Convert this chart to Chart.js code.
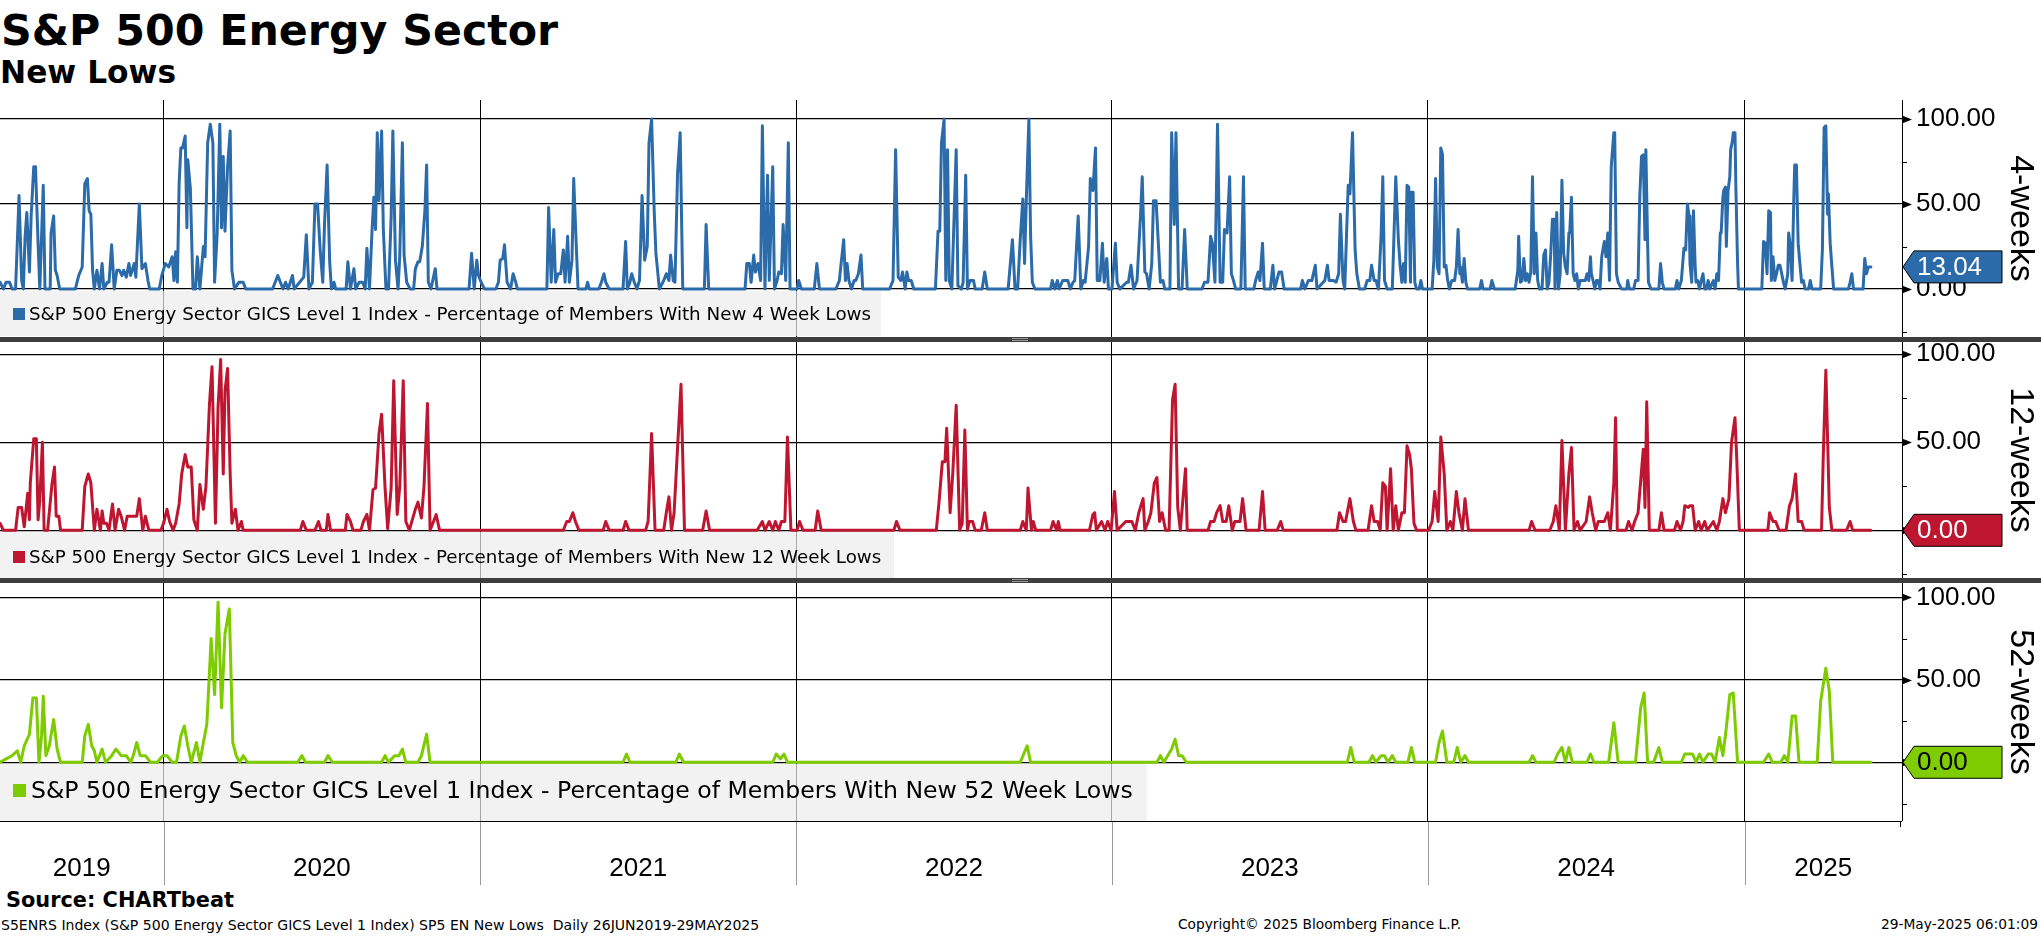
<!DOCTYPE html>
<html><head><meta charset="utf-8">
<script src="https://cdn.jsdelivr.net/npm/chart.js@4.4.1/dist/chart.umd.min.js"></script>
<style>
html,body{margin:0;padding:0;background:#fff;}
body{width:2041px;height:936px;position:relative;overflow:hidden;font-family:"DejaVu Sans",sans-serif;color:#000;}
.t{position:absolute;white-space:nowrap;line-height:1;font-family:"DejaVu Sans",sans-serif;}
canvas{position:absolute;left:0;}
.sep{position:absolute;left:0;width:2041px;height:5px;background:#3e3e3e;}
.grip{position:absolute;width:16px;height:1px;background:#9a9a9a;}
.leg{position:absolute;left:0;background:rgba(236,236,236,0.7);}
.sq{position:absolute;}
</style></head><body>

<div class="t" data-fit="557" data-base="45" style="left:1px;font-weight:bold;font-size:43px;">S&amp;P 500 Energy Sector</div>
<div class="t" data-fit="176" data-base="83" style="left:0px;font-weight:bold;font-size:31px;">New Lows</div>

<canvas id="c1" width="2041" height="237" style="top:100px"></canvas>
<canvas id="c2" width="2041" height="236" style="top:342px"></canvas>
<canvas id="c3" width="2041" height="302" style="top:583px"></canvas>

<div class="sep" style="top:337px"></div>
<div class="sep" style="top:578px"></div>
<div class="grip" style="left:1012px;top:338px"></div><div class="grip" style="left:1012px;top:340px"></div>
<div class="grip" style="left:1012px;top:579px"></div><div class="grip" style="left:1012px;top:581px"></div>

<div class="leg" style="top:291px;width:881px;height:45px"></div>
<div class="sq" style="left:13px;top:308px;width:12px;height:12px;background:#2C6BA9"></div>
<div class="t" data-fit="842" data-base="320" style="left:29px;font-size:17px;">S&amp;P 500 Energy Sector GICS Level 1 Index - Percentage of Members With New 4 Week Lows</div>

<div class="leg" style="top:532px;width:894px;height:46px"></div>
<div class="sq" style="left:13px;top:551px;width:12px;height:12px;background:#BE1630"></div>
<div class="t" data-fit="852" data-base="563" style="left:29px;font-size:17px;">S&amp;P 500 Energy Sector GICS Level 1 Index - Percentage of Members With New 12 Week Lows</div>

<div class="leg" style="top:764px;width:1147px;height:57px"></div>
<div class="sq" style="left:13px;top:784px;width:13px;height:13px;background:#7DCB00"></div>
<div class="t" data-fit="1102" data-base="799" style="left:31px;font-size:23px;">S&amp;P 500 Energy Sector GICS Level 1 Index - Percentage of Members With New 52 Week Lows</div>

<div class="t" data-fit="228" data-base="908" style="left:6px;font-weight:bold;font-size:20px;">Source: CHARTbeat</div>
<div class="t" data-fit="758" data-base="930" style="left:1px;font-size:12px;">S5ENRS Index (S&amp;P 500 Energy Sector GICS Level 1 Index) SP5 EN New Lows&nbsp; Daily 26JUN2019-29MAY2025</div>
<div class="t" data-fit="283" data-base="930" style="left:1178px;font-size:12px;">Copyright© 2025 Bloomberg Finance L.P.</div>
<div class="t" data-fit="157" data-base="930" style="left:1881px;font-size:12px;">29-May-2025 06:01:09</div>

<script>
// ---------------- DATA ----------------
// x = calendar days since the first observation (26 Jun 2019), y = % of members
const startDate = '2019-06-26';
const endDays = 2198;               // right edge of the time axis (days since start)
const yearTicks = [2020, 2021, 2022, 2023, 2024, 2025];
const yearLabels = ['2019', '2020', '2021', '2022', '2023', '2024', '2025'];
const panelTitles = ['4-weeks', '12-weeks', '52-weeks'];
const seriesNames = [
  'S&P 500 Energy Sector GICS Level 1 Index - Percentage of Members With New 4 Week Lows',
  'S&P 500 Energy Sector GICS Level 1 Index - Percentage of Members With New 12 Week Lows',
  'S&P 500 Energy Sector GICS Level 1 Index - Percentage of Members With New 52 Week Lows'
];

const lows4w = [[0,4],[4,0],[7,4],[11,4],[14,0],[18,0],[22,55],[25,5],[27,0],[29,31],[31,45],[34,10],[36,43],[39,72],[41,72],[44,27],[46,0],[50,61],[52,0],[58,0],[59,33],[62,43],[64,11],[66,8],[69,0],[87,0],[91,8],[95,13],[98,62],[101,65],[103,46],[105,44],[107,11],[109,0],[112,11],[115,0],[118,15],[120,0],[124,4],[126,4],[129,26],[132,0],[135,11],[138,11],[141,8],[143,11],[146,7],[149,15],[151,8],[155,15],[157,7],[161,50],[164,12],[168,15],[171,5],[173,0],[184,0],[187,8],[191,15],[195,13],[199,19],[201,5],[203,22],[205,4],[207,62],[209,83],[211,83],[214,90],[216,36],[217,76],[220,59],[223,0],[226,0],[228,19],[231,0],[235,25],[237,19],[240,86],[243,97],[246,86],[248,4],[251,33],[254,97],[256,36],[258,78],[260,34],[263,72],[266,93],[268,11],[271,0],[276,4],[281,4],[284,0],[315,0],[318,4],[321,8],[324,4],[327,0],[330,4],[333,0],[338,8],[340,0],[351,7],[354,32],[357,0],[361,4],[364,50],[367,50],[370,23],[373,4],[375,38],[378,73],[381,16],[383,0],[386,4],[388,0],[400,0],[402,16],[405,0],[409,12],[411,0],[415,4],[419,4],[422,0],[424,24],[427,0],[430,35],[432,54],[434,35],[436,92],[438,52],[441,93],[443,35],[446,0],[449,0],[452,42],[454,93],[457,17],[460,0],[462,20],[465,86],[467,20],[470,4],[474,0],[478,0],[480,12],[483,16],[485,16],[488,25],[491,46],[493,73],[495,4],[498,0],[503,12],[505,0],[542,0],[545,21],[548,0],[551,17],[553,8],[556,4],[560,0],[573,0],[576,4],[578,17],[581,18],[583,26],[586,4],[590,0],[593,9],[596,4],[598,0],[632,0],[634,48],[637,4],[640,35],[642,4],[645,9],[648,9],[651,23],[653,4],[656,31],[658,4],[661,17],[663,65],[666,25],[668,0],[677,0],[679,4],[681,0],[692,0],[695,4],[698,9],[700,4],[704,0],[720,0],[723,28],[725,0],[728,4],[730,9],[733,4],[736,0],[739,5],[742,55],[745,17],[748,25],[750,86],[753,100],[756,46],[758,21],[762,0],[767,5],[770,9],[773,5],[775,20],[778,5],[780,4],[783,68],[786,92],[789,0],
[814,0],[816,38],[819,0],[861,0],[863,15],[866,15],[868,4],[871,20],[873,10],[876,15],[879,5],[881,96],[884,0],[887,67],[889,5],[893,72],[895,0],[898,5],[900,10],[903,9],[905,38],[908,5],[911,86],[913,0],[921,0],[923,5],[926,0],[941,0],[944,15],[947,0],[966,0],[970,5],[972,15],[975,29],[977,5],[979,15],[981,5],[984,0],[987,5],[989,5],[992,9],[995,20],[997,0],[1028,0],[1032,5],[1035,82],[1038,7],[1041,5],[1043,10],[1046,0],[1048,10],[1050,5],[1053,5],[1056,0],[1081,0],[1084,34],[1086,34],[1088,86],[1091,100],[1093,5],[1095,82],[1097,5],[1100,0],[1105,82],[1107,2],[1111,0],[1113,4],[1116,67],[1118,0],[1121,5],[1125,5],[1127,0],[1135,0],[1138,10],[1141,0],[1165,0],[1170,29],[1173,0],[1176,0],[1179,29],[1182,53],[1184,15],[1186,52],[1189,100],[1191,31],[1193,4],[1196,0],[1214,0],[1216,5],[1219,0],[1222,5],[1224,0],[1228,5],[1231,5],[1234,5],[1237,0],[1240,4],[1242,5],[1246,43],[1249,0],[1252,5],[1254,4],[1258,25],[1260,65],[1263,58],[1266,83],[1268,5],[1271,5],[1274,27],[1276,4],[1279,18],[1281,0],[1285,0],[1289,27],[1291,4],[1294,0],[1302,4],[1304,4],[1307,14],[1310,0],[1314,5],[1318,43],[1320,66],[1323,10],[1325,9],[1328,0],[1331,15],[1333,52],[1336,52],[1339,23],[1341,4],[1344,5],[1346,0],[1352,0],[1354,92],[1357,38],[1359,92],[1362,0],[1366,0],[1369,35],[1372,0],[1389,0],[1392,4],[1396,4],[1399,31],[1401,27],[1404,4],[1407,97],[1410,4],[1413,4],[1415,35],[1418,33],[1421,66],[1423,9],[1426,4],[1428,0],[1434,0],[1437,66],[1439,0],[1449,0],[1451,5],[1454,10],[1456,5],[1459,27],[1461,0],[1468,0],[1471,14],[1473,0],[1478,10],[1481,10],[1484,0],[1503,0],[1505,5],[1508,0],[1512,5],[1516,5],[1520,14],[1522,0],[1531,5],[1534,14],[1536,5],[1539,5],[1541,5],[1544,4],[1547,9],[1549,44],[1552,5],[1554,0],[1558,61],[1560,56],[1563,92],[1566,23],[1568,9],[1571,0],[1577,0],[1580,5],[1583,5],[1585,14],[1588,5],[1590,5],[1593,0],[1596,31],[1598,66],[1600,5],[1603,0],[1609,0],[1613,66],[1616,29],
[1618,14],[1620,4],[1622,15],[1624,4],[1626,61],[1628,60],[1630,4],[1631,57],[1633,57],[1635,4],[1637,0],[1640,0],[1642,5],[1644,0],[1655,0],[1657,17],[1659,65],[1661,13],[1663,9],[1665,83],[1667,79],[1669,13],[1671,14],[1673,5],[1675,0],[1677,4],[1678,5],[1681,5],[1683,13],[1685,35],[1687,9],[1688,13],[1690,4],[1692,18],[1694,4],[1696,0],[1710,0],[1712,5],[1714,0],[1722,0],[1724,5],[1727,0],[1751,0],[1754,11],[1755,31],[1757,4],[1759,5],[1761,18],[1763,5],[1765,9],[1767,4],[1769,10],[1771,66],[1773,9],[1775,33],[1777,5],[1779,0],[1782,0],[1784,20],[1786,23],[1788,0],[1790,4],[1792,20],[1794,41],[1796,41],[1797,0],[1799,45],[1801,0],[1803,9],[1805,64],[1807,21],[1809,13],[1811,9],[1813,33],[1814,33],[1816,54],[1818,9],[1820,5],[1822,9],[1824,0],[1826,5],[1829,5],[1832,5],[1834,9],[1836,5],[1838,19],[1839,9],[1841,5],[1843,0],[1845,5],[1847,5],[1849,0],[1851,19],[1854,28],[1856,19],[1858,33],[1860,5],[1862,72],[1865,92],[1866,92],[1868,9],[1870,4],[1874,0],[1880,0],[1881,5],[1883,0],[1888,0],[1890,5],[1891,5],[1893,5],[1895,55],[1897,78],[1899,79],[1901,29],[1902,82],[1904,28],[1905,4],[1908,0],[1917,0],[1919,15],[1921,4],[1923,0],[1936,0],[1938,5],[1940,0],[1943,5],[1946,24],[1948,23],[1950,50],[1952,43],[1953,15],[1955,4],[1957,46],[1959,13],[1960,4],[1962,5],[1964,0],[1966,5],[1968,9],[1970,0],[1972,0],[1974,5],[1976,0],[1980,5],[1982,0],[1984,9],[1986,5],[1988,33],[1989,33],[1991,54],[1992,58],[1994,60],[1995,25],[1997,58],[1999,66],[2000,82],[2002,87],[2003,92],[2005,92],[2006,60],[2008,15],[2009,0],[2036,0],[2038,28],[2040,27],[2042,9],[2044,46],[2046,45],[2047,5],[2049,19],[2051,5],[2053,9],[2055,14],[2057,14],[2059,9],[2061,4],[2063,0],[2066,9],[2067,33],[2069,25],[2071,5],[2073,54],[2074,73],[2076,73],[2078,27],[2080,15],[2082,4],[2084,5],[2086,0],[2090,0],[2092,5],[2094,0],[2104,0],[2106,23],[2108,95],[2110,96],[2112,44],[2113,56],[2115,27],[2117,13],[2119,0],[2136,0],[2138,4],[2140,9],[2142,0],[2153,0],[2155,18],[2157,9],[2159,13],[2162,13.04]];

const lows12w = [[0,4],[4,0],[18,0],[21,13],[25,13],[28,2],[32,21],[34,6],[35,27],[39,52],[42,52],[44,6],[46,17],[49,50],[51,0],[55,0],[60,26],[63,36],[65,8],[68,8],[70,0],[95,0],[98,25],[102,32],[105,27],[109,0],[112,12],[116,0],[118,11],[120,4],[123,4],[126,0],[130,15],[133,0],[137,12],[140,8],[144,0],[147,8],[151,8],[154,8],[158,8],[161,18],[165,0],[168,8],[172,0],[186,0],[189,4],[193,12],[196,5],[200,0],[203,4],[207,15],[210,32],[214,43],[217,36],[221,36],[224,6],[228,0],[231,26],[235,12],[238,25],[242,71],[245,93],[249,4],[252,70],[255,97],[258,32],[260,79],[263,92],[266,32],[268,4],[272,12],[275,0],[279,5],[281,0],[347,0],[350,5],[354,0],[364,0],[368,5],[371,0],[377,0],[379,9],[382,0],[399,0],[401,9],[405,5],[408,0],[417,0],[420,5],[424,9],[427,0],[431,23],[434,24],[438,55],[441,66],[445,24],[448,1],[452,24],[455,85],[459,9],[462,25],[466,85],[469,5],[473,0],[480,12],[483,16],[487,7],[490,25],[494,72],[497,0],[501,5],[504,9],[508,0],[651,0],[655,5],[658,5],[662,10],[665,5],[669,0],[697,0],[700,5],[704,0],[720,0],[723,5],[727,0],[746,0],[749,5],[753,55],[757,0],[767,0],[770,10],[773,19],[776,0],[779,10],[783,47],[787,83],[791,0],[812,0],[816,11],[820,0],[875,0],[881,5],[884,0],[889,5],[893,0],[896,5],[900,0],[903,5],[907,5],[910,53],[914,0],[921,0],[924,5],[928,0],[942,0],[945,11],[949,0],[1033,0],[1036,5],[1040,0],[1082,0],[1085,15],[1089,39],[1092,39],[1094,58],[1098,10],[1101,32],[1105,71],[1109,0],[1112,4],[1115,57],[1118,0],[1120,5],[1124,5],[1127,0],[1134,0],[1138,10],[1141,0],[1179,0],[1182,5],[1186,0],[1188,24],[1192,0],[1194,5],[1197,0],[1214,0],[1217,5],[1221,0],[1223,5],[1225,0],[1259,0],[1263,9],[1265,10],[1267,0],[1273,5],[1277,0],[1280,5],[1284,0],[1288,22],[1291,0],[1301,5],[1305,5],[1308,5],[1312,0],[1316,10],[1321,18],[1323,0],[1327,5],[1330,10],[1334,27],[1337,30],[1340,5],[1343,10],[1347,0],[1351,0],[1355,74],[1358,83],[1361,13],[1364,0],[1370,35],[1372,0],[1396,0],[1399,5],[1403,5],[1406,10],[1410,14],[1413,5],[1417,5],[1420,14],[1424,0],[1427,5],[1433,5],[1436,18],[1440,0],[1455,0],[1459,22],[1462,0],[1476,0],[1480,5],[1483,0],[1545,0],[1548,10],[1552,5],[1555,5],[1560,18],[1564,5],[1567,0],[1581,0],[1585,14],[1588,5],[1592,5],[1595,0],[1598,27],[1601,25],[1603,0],[1607,35],[1610,0],[1613,14],[1616,0],[1620,10],[1623,10],[1626,48],[1629,43],[1631,35],[1634,4],[1637,0],[1651,0],[1655,5],[1658,22],[1662,5],[1665,53],[1669,32],[1672,0],[1676,5],[1679,0],[1683,22],[1686,10],[1690,0],[1693,18],[1697,0],[1767,0],[1770,5],[1774,0],[1791,0],[1795,5],[1798,14],[1802,0],[1805,51],[1809,0],[1813,32],[1816,47],[1819,0],[1823,5],[1826,0],[1833,5],[1837,19],[1840,10],[1844,0],[1847,5],[1851,5],[1854,5],[1858,10],[1861,0],[1865,27],[1867,64],[1869,0],[1879,0],[1882,5],[1886,0],[1889,5],[1893,10],[1896,28],[1899,46],[1901,13],[1903,73],[1906,0],[1917,0],[1920,10],[1923,0],[1935,0],[1938,5],[1942,0],[1945,5],[1947,14],[1951,13],[1953,14],[1956,14],[1959,0],[1963,5],[1966,0],[1970,5],[1973,0],[1980,5],[1984,0],[1987,5],[1991,18],[1994,10],[1998,18],[2001,50],[2005,64],[2007,41],[2010,0],[2043,0],[2045,10],[2049,5],[2052,5],[2056,0],[2064,0],[2068,14],[2071,18],[2075,32],[2078,5],[2082,5],[2085,0],[2105,0],[2107,42],[2110,91],[2112,52],[2114,13],[2117,0],[2134,0],[2138,5],[2141,0],[2162,0]];

const lows52w = [[0,0],[14,4],[20,7],[24,0],[28,10],[34,17],[38,39],[42,39],[45,0],[48,16],[50,40],[53,4],[57,10],[62,26],[66,8],[70,0],[95,0],[98,16],[102,23],[106,10],[109,7],[112,0],[118,8],[122,0],[129,4],[134,8],[140,4],[146,4],[151,0],[154,4],[158,12],[162,4],[168,4],[174,0],[182,0],[188,4],[193,4],[199,0],[204,0],[209,16],[213,22],[217,10],[221,0],[227,12],[231,0],[235,12],[239,23],[244,75],[248,41],[252,97],[256,33],[260,78],[265,93],[269,12],[273,4],[277,0],[281,4],[286,0],[344,0],[349,4],[353,0],[375,0],[379,4],[384,0],[441,0],[445,4],[449,0],[456,4],[461,4],[465,8],[469,0],[483,0],[487,4],[493,17],[497,0],[720,0],[724,5],[728,0],[781,0],[785,5],[790,0],[893,0],[897,5],[902,2],[906,5],[910,0],[1179,0],[1183,5],[1187,10],[1191,0],[1337,0],[1341,4],[1345,0],[1354,8],[1358,14],[1362,4],[1366,4],[1371,0],[1557,0],[1561,9],[1565,0],[1582,0],[1586,4],[1590,0],[1596,4],[1600,4],[1604,0],[1609,4],[1613,0],[1627,0],[1631,9],[1635,0],[1659,0],[1663,12],[1667,19],[1672,0],[1680,0],[1684,9],[1688,0],[1693,4],[1697,0],[1767,0],[1771,4],[1775,0],[1796,0],[1800,5],[1805,9],[1809,0],[1813,9],[1817,0],[1834,0],[1838,5],[1842,0],[1859,0],[1865,24],[1870,0],[1890,0],[1896,33],[1900,42],[1904,0],[1911,0],[1917,9],[1921,0],[1943,0],[1947,5],[1952,5],[1956,5],[1960,0],[1964,5],[1968,0],[1974,5],[1978,5],[1982,0],[1987,15],[1991,4],[1995,21],[1999,41],[2003,42],[2008,0],[2038,0],[2044,5],[2048,0],[2058,0],[2062,4],[2066,0],[2071,28],[2075,28],[2079,0],[2100,0],[2104,37],[2110,57],[2114,43],[2118,0],[2162,0]];

const yTickValues = [-25, 0, 25, 50, 75, 100];

// ---------------- HELPERS ----------------
const t0 = Date.parse(startDate + 'T00:00:00Z');
const dayOfYearStart = y => Math.round((Date.UTC(y, 0, 1) - t0) / 864e5);
const gridDays = yearTicks.map(dayOfYearStart);
const bounds = [0, ...gridDays, endDays];
const labelDays = yearLabels.map((_, i) => (bounds[i] + bounds[i + 1]) / 2);

const FONT_NUM = 'Liberation Sans';

const deco = {
  id: 'deco',
  afterDraw(chart, args, o) {
    const {ctx, chartArea: ca, scales} = chart;
    const ys = scales.y;
    ctx.save();
    ctx.fillStyle = '#000'; ctx.strokeStyle = '#000'; ctx.lineWidth = 1;
    ys.ticks.forEach(t => {
      const py = Math.round(ys.getPixelForValue(t.value)) + 0.5;
      if (t.value % 50 === 0) {
        ctx.beginPath(); ctx.moveTo(ca.right, py - 4); ctx.lineTo(ca.right + 10, py); ctx.lineTo(ca.right, py + 4); ctx.closePath(); ctx.fill();
      } else {
        ctx.beginPath(); ctx.moveTo(ca.right, py); ctx.lineTo(ca.right + 5, py); ctx.stroke();
      }
    });
    if (o.bottom) {
      const xs = scales.x;
      ctx.strokeStyle = '#9a9a9a';
      gridDays.forEach(d => {
        const px = Math.round(xs.getPixelForValue(d)) + 0.5;
        ctx.beginPath(); ctx.moveTo(px, ca.bottom); ctx.lineTo(px, ca.bottom + 64); ctx.stroke();
      });
      ctx.strokeStyle = '#000';
      ctx.beginPath(); ctx.moveTo(ca.left, ca.bottom + 0.5); ctx.lineTo(ca.right, ca.bottom + 0.5); ctx.stroke();
      ctx.beginPath(); ctx.moveTo(ca.right - 1.5, ca.bottom); ctx.lineTo(ca.right - 1.5, ca.bottom + 6); ctx.stroke();
    }
    // last value box
    const v = o.last;
    const py = ys.getPixelForValue(v);
    const x0 = ca.right + 1, h = 32, w = 99, tip = 11;
    ctx.beginPath();
    ctx.moveTo(x0, py); ctx.lineTo(x0 + tip, py - h / 2); ctx.lineTo(x0 + w, py - h / 2);
    ctx.lineTo(x0 + w, py + h / 2); ctx.lineTo(x0 + tip, py + h / 2); ctx.closePath();
    ctx.fillStyle = o.boxColor; ctx.fill();
    ctx.strokeStyle = '#000'; ctx.lineWidth = 1; ctx.stroke();
    ctx.fillStyle = o.textColor; ctx.font = '26px "' + FONT_NUM + '"';
    ctx.textBaseline = 'middle'; ctx.textAlign = 'left';
    ctx.fillText(v.toFixed(2), x0 + 14, py + 1);
    ctx.restore();
  }
};

function makePanel(id, series, name, color, yMin, yMax, title, boxColor, textColor, bottom) {
  const scales = {
    x: {
      type: 'linear', min: 0, max: endDays, weight: 0,
      afterBuildTicks: s => { s.ticks = gridDays.map(v => ({value: v})); },
      afterFit: s => { s.height = 0; s.paddingLeft = 0; s.paddingRight = 0; },
      grid: {color: '#000', lineWidth: 1, drawTicks: false},
      border: {display: false},
      ticks: {display: false}
    },
    y: {
      position: 'right', min: yMin, max: yMax,
      afterBuildTicks: s => { s.ticks = yTickValues.map(v => ({value: v})); },
      afterFit: s => { s.width = 139; s.paddingTop = 0; s.paddingBottom = 0; },
      grid: {
        color: c => (c.tick && c.tick.value % 50 === 0) ? '#000' : 'rgba(0,0,0,0)',
        lineWidth: 1.2, drawTicks: false
      },
      border: {display: true, color: '#000', width: 1},
      ticks: {
        padding: 14, color: '#000', font: {family: FONT_NUM, size: 26},
        callback: v => (v % 50 === 0 ? v.toFixed(2) : '')
      },
      title: {display: true, text: title, color: '#000', font: {family: FONT_NUM, size: 34}, padding: {top: 0, bottom: 0}}
    }
  };
  if (bottom) {
    scales.xl = {
      type: 'linear', position: 'bottom', min: 0, max: endDays, weight: 1,
      afterBuildTicks: s => { s.ticks = labelDays.map(v => ({value: v})); },
      afterFit: s => { s.height = 64; s.paddingLeft = 0; s.paddingRight = 0; },
      grid: {display: false, drawTicks: false},
      border: {display: false},
      ticks: {
        autoSkip: false, maxRotation: 0, padding: 32, color: '#000',
        font: {family: FONT_NUM, size: 26},
        callback: (v, i) => yearLabels[i]
      }
    };
  }
  return new Chart(document.getElementById(id), {
    type: 'line',
    data: {datasets: [{
      label: name,
      data: series.map(p => ({x: p[0], y: p[1]})),
      borderColor: color, borderWidth: 3, pointRadius: 0, tension: 0, fill: false,
      borderJoinStyle: 'round', borderCapStyle: 'round'
    }]},
    options: {
      responsive: false, animation: false, devicePixelRatio: 1,
      layout: {padding: 0},
      plugins: {legend: {display: false}, tooltip: {enabled: false},
        deco: {last: series[series.length - 1][1], boxColor, textColor, bottom}},
      scales
    },
    plugins: [deco]
  });
}

makePanel('c1', lows4w, seriesNames[0], '#2C6BA9', -28.2, 111.2, panelTitles[0], '#2C6BA9', '#fff', false);
makePanel('c2', lows12w, seriesNames[1], '#BE1630', -27.1, 107.0, panelTitles[1], '#BE1630', '#fff', false);
makePanel('c3', lows52w, seriesNames[2], '#7DCB00', -35.6, 108.7, panelTitles[2], '#7FCC00', '#000', true);

function fitText() {
  document.querySelectorAll('[data-fit]').forEach(el => {
    const target = +el.dataset.fit;
    const fs = parseFloat(getComputedStyle(el).fontSize);
    const w = el.getBoundingClientRect().width;
    const nfs = fs * target / w;
    el.style.fontSize = nfs.toFixed(2) + 'px';
    el.style.top = (+el.dataset.base - 0.846 * nfs).toFixed(1) + 'px';
  });
}
if (document.fonts && document.fonts.ready) document.fonts.ready.then(fitText); else fitText();
fitText();
</script>
</body></html>
